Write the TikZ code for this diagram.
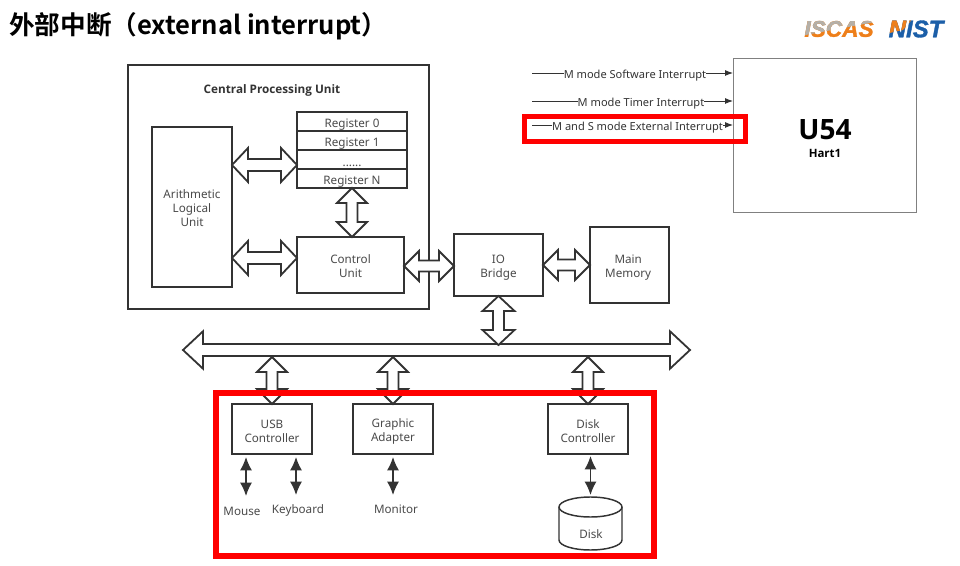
\documentclass[tikz,border=0pt]{standalone}
\usepackage{fontspec}
\setmainfont{Noto Sans}
\newfontfamily\headfont{Open Sans}
\newfontfamily\cjktitle[BoldFont={Noto Sans CJK SC Bold}]{Noto Sans CJK SC}
\newfontfamily\logofont[FakeBold=1.5]{Liberation Sans}
\usetikzlibrary{calc,arrows.meta}
\definecolor{ink}{HTML}{333333}
\definecolor{lab}{HTML}{4A4A4A}
\definecolor{hot}{HTML}{FF0000}
\definecolor{logoo}{HTML}{EE7F1A}
\definecolor{logob}{HTML}{1C5FA8}
\definecolor{logog}{HTML}{B5B0A8}
\tikzset{
  blk/.style 2 args={draw=ink,line width=1.35pt,fill=white,inner sep=0pt,outer sep=0pt,
    minimum width=#1*0.75pt,minimum height=#2*0.75pt,align=center,text=lab,
    font=\fontsize{8.75pt}{10.5pt}\selectfont,execute at begin node=\rule{0pt}{10.5pt}},
  lbl/.style={inner sep=0pt,outer sep=0pt,text=lab,align=center,font=\fontsize{8.75pt}{10.5pt}\selectfont},
  txt/.style={lbl,label distance=0pt},
  irq/.style={inner sep=0pt,outer sep=0pt,text=ink,font=\fontsize{8.3pt}{10pt}\selectfont},
  logot/.style={anchor=center,inner sep=0pt,font=\logofont\bfseries\itshape\fontsize{#1}{18pt}\selectfont},
  fath/.style n args={3}{draw=ink,line width=1.35pt,fill=white,to path={
    (\tikztostart) -- ($(\tikztostart)+(#1,-#2)$) -- ($(\tikztostart)+(#1,-#3)$)
    -- ($(\tikztotarget)+(-#1,-#3)$) -- ($(\tikztotarget)+(-#1,-#2)$) -- (\tikztotarget)
    -- ($(\tikztotarget)+(-#1,#2)$) -- ($(\tikztotarget)+(-#1,#3)$)
    -- ($(\tikztostart)+(#1,#3)$) -- ($(\tikztostart)+(#1,#2)$) -- cycle}},
  fatv/.style n args={3}{draw=ink,line width=1.35pt,fill=white,to path={
    (\tikztostart) -- ($(\tikztostart)+(-#2,#1)$) -- ($(\tikztostart)+(-#3,#1)$)
    -- ($(\tikztotarget)+(-#3,-#1)$) -- ($(\tikztotarget)+(-#2,-#1)$) -- (\tikztotarget)
    -- ($(\tikztotarget)+(#2,-#1)$) -- ($(\tikztotarget)+(#3,-#1)$)
    -- ($(\tikztostart)+(#3,#1)$) -- ($(\tikztostart)+(#2,#1)$) -- cycle}},
  thin2/.style={draw=ink,line width=1.1pt,{Latex[length=10pt,width=9pt]}-{Latex[length=10pt,width=9pt]}},
  wire/.style={draw=ink,line width=0.7pt},
  wirea/.style={draw=ink,line width=0.7pt,-{Latex[length=6pt,width=4.5pt]}},
  hotbox/.style={draw=hot,line width=3.8pt},
}
\begin{document}
\begin{tikzpicture}[x=0.75pt,y=-0.75pt]
\useasboundingbox (0,0) rectangle (960,566);
% title
\node[anchor=west,inner sep=0pt,font=\cjktitle\bfseries\fontsize{19.2pt}{22pt}\selectfont] (title) at (9,26) {外部中断（external interrupt）};
% logos
\node[logot=17pt,text=logoo] (iscas) at (839,29) {ISCAS};
\begin{scope}
\clip (800,16) -- (880,16) -- (880,21) -- (800,36) -- cycle;
\node[logot=17pt,text=logog] (iscasb) at (839,29) {ISCAS};
\end{scope}
\node[logot=18pt,text=logob] (nist) at (916,29) {NIST};
\begin{scope}
\clip (885,16) -- (915,16) -- (903,30) -- (885,34) -- cycle;
\node[logot=18pt,text=logoo] (nistb) at (916,29) {NIST};
\end{scope}
% CPU
\node[blk={301}{244}] (cpu) at (278.5,187) {};
\node[lbl,text=ink,font=\headfont\bfseries\fontsize{8.8pt}{10.6pt}\selectfont] (cputitle) at (272,90) {Central Processing Unit};
\node[blk={80}{160},label={[txt,yshift=-0.75pt]center:{Arithmetic\\Logical\\Unit}}] (alu) at (192,207) {};
\node[blk={110}{19}] (r0) at (352,121.5) {Register 0};
\node[blk={110}{19}] (r1) at (352,140.5) {Register 1};
\node[blk={110}{19}] (rd) at (352,159.5) {......};
\node[blk={110}{19}] (rn) at (352,178.5) {Register N};
\node[blk={107}{56},label={[txt,yshift=-0.75pt]center:{Control\\Unit}}] (cu) at (350.5,265) {};
\node[blk={89}{62},label={[txt,yshift=-2pt]center:{IO\\Bridge}}] (io) at (498.5,265) {};
\node[blk={79}{76},label={[txt,yshift=-2pt,xshift=-1pt]center:{Main\\Memory}}] (mem) at (629.5,265) {};
% bus
\coordinate (busl) at (183,350);
\coordinate (busr) at (690,350);
\draw[fath={20}{18.7}{6}] (busl) to (busr);
% fat arrows
\draw[fath={16}{17}{6}] (alu.east |- 0,165) to (rd.west |- 0,165);
\draw[fath={16}{17}{6}] (alu.east |- 0,258) to (cu.west |- 0,258);
\draw[fatv={15}{15}{5.5}] (rn.south) to (rn.south |- cu.north);
\draw[fath={15}{15}{5.5}] (cu.east |- 0,266) to (io.west |- 0,266);
\draw[fath={15}{15}{5.5}] (io.east |- 0,265) to (mem.west |- 0,265);
\draw[fatv={15}{16}{5.5}] (io.south) to (io.south |- 0,345);
% IO devices
\node[blk={80}{50},label={[txt,yshift=-1.5pt]center:{USB\\Controller}}] (usb) at (272,429) {};
\node[blk={80}{50},label={[txt,yshift=-1.5pt]center:{Graphic\\Adapter}}] (gfx) at (393,429) {};
\node[blk={80}{50},label={[txt,yshift=-1.5pt]center:{Disk\\Controller}}] (dc) at (588,429) {};
\draw[fatv={15}{15}{5.5}] (usb.north |- 0,357) to (usb.north);
\draw[fatv={15}{15}{5.5}] (gfx.north |- 0,357) to (gfx.north);
\draw[fatv={15}{15}{5.5}] (dc.north |- 0,357) to (dc.north);
\node[lbl] (mouse) at (242,511) {Mouse};
\node[lbl] (kbd) at (298,510) {Keyboard};
\node[lbl] (mon) at (396,509) {Monitor};
% disk cylinder
\coordinate (disktop) at (590.5,497);
\draw[draw=ink,line width=1.1pt,fill=white] (559,507) arc[start angle=180,end angle=360,x radius=31.5,y radius=10]
  -- (622,540) arc[start angle=0,end angle=180,x radius=31.5,y radius=10] -- cycle;
\draw[draw=ink,line width=1.1pt] (559,507) arc[start angle=180,end angle=0,x radius=31.5,y radius=10];
\node[lbl] (disklabel) at (591,534) {Disk};
\coordinate (mt) at (246,457);
\coordinate (mb) at (246,496);
\coordinate (kt) at (296,457);
\coordinate (kb) at (296,495);
\draw[thin2] (mt) -- (mb);
\draw[thin2] (kt) -- (kb);
\draw[thin2] (gfx.south |- 0,457) -- (gfx.south |- 0,495);
\draw[thin2,shorten >=1.5pt] (disktop |- 0,456) -- (disktop);
% U54
\node[draw=black!50,line width=0.75pt,fill=white,inner sep=0pt,outer sep=0pt,minimum width=183*0.75pt,minimum height=154*0.75pt] (hart) at (824.5,136) {};
\node[inner sep=0pt,font=\headfont\bfseries\fontsize{21pt}{24pt}\selectfont] (u54) at (825,130) {U54};
\node[inner sep=0pt,font=\headfont\bfseries\fontsize{8.6pt}{10pt}\selectfont] (hart1) at (825,153) {Hart1};
\coordinate (s1) at (532,73);
\coordinate (s2) at (532,101);
\coordinate (s3) at (532,125);
\node[irq] (i1) at (635,73) {\rule{0pt}{10pt}M mode Software Interrupt};
\node[irq] (i2) at (641,101) {\rule{0pt}{10pt}M mode Timer Interrupt};
\node[irq] (i3) at (637.5,125) {\rule{0pt}{10pt}M and S mode External Interrupt};
\draw[wire] (s1) -- (s1 -| i1.west);
\draw[wire] (s2) -- (s2 -| i2.west);
\draw[wire] (s3) -- (s3 -| i3.west);
\draw[wirea] (s1 -| i1.east) -- (s1 -| hart.west);
\draw[wirea] (s2 -| i2.east) -- (s2 -| hart.west);
\draw[wirea] (s3 -| i3.east) -- (s3 -| hart.west);
% red highlights
\draw[hotbox] (524.5,116.5) rectangle (745.5,141.5);
\draw[hotbox] (216,393) rectangle (654,556);
\end{tikzpicture}
\end{document}
